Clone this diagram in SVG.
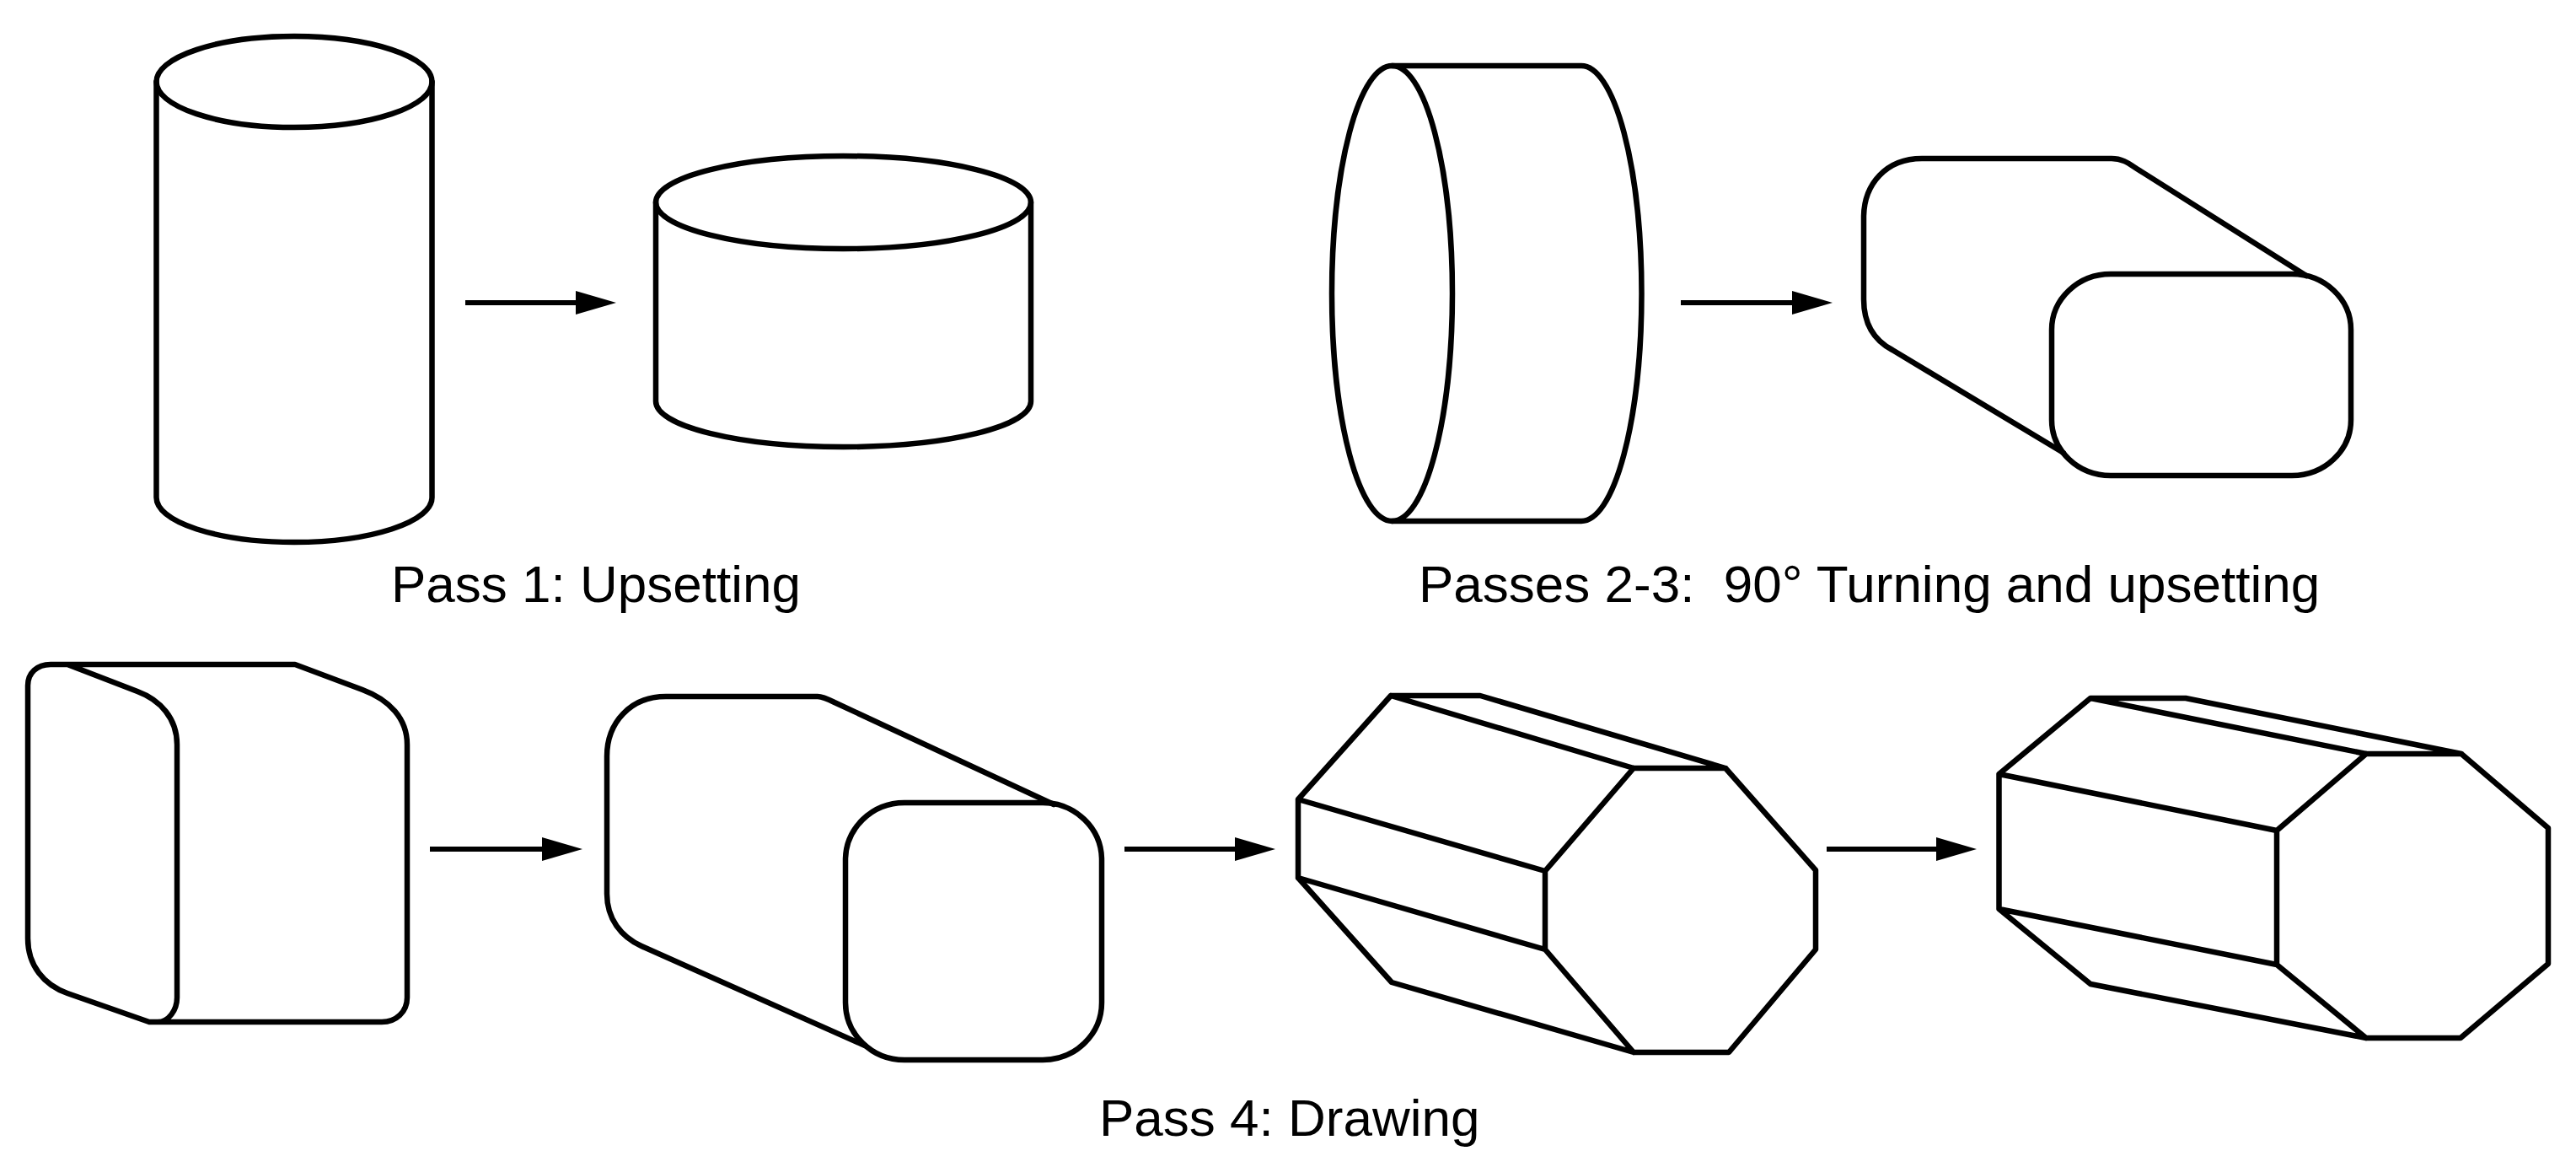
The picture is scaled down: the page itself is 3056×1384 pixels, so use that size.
<svg xmlns="http://www.w3.org/2000/svg" width="3056" height="1384" viewBox="0 0 3056 1384">
<style>
.s{fill:none;stroke:#000;stroke-width:6.500;stroke-linejoin:round;stroke-linecap:round}
.a{fill:none;stroke:#000;stroke-width:6;marker-end:url(#h)}
text{font-family:"Liberation Sans",Arial,sans-serif;font-size:62px;fill:#000;white-space:pre}
</style>
<defs><marker id="h" markerUnits="userSpaceOnUse" markerWidth="50" markerHeight="28" refX="10" refY="14" orient="auto"><path d="M0 0L48 14L0 28Z" fill="#000"/></marker></defs>
<rect width="3056" height="1384" fill="#fff"/>
<g id="cyl-tall"><ellipse class="s" cx="349" cy="97" rx="163.500" ry="54"/><path class="s" d="M185.500 97V590A163.500 53 0 0 0 512.500 590V97"/></g>
<g id="cyl-upset"><ellipse class="s" cx="1000.500" cy="240" rx="222.500" ry="55"/><path class="s" d="M778 240V476A222.500 54 0 0 0 1223 476V240"/></g>
<g id="disc"><ellipse class="s" cx="1651.500" cy="348" rx="71.500" ry="270"/><path class="s" d="M1651.500 78H1876A71.500 270 0 0 1 1876 618H1651.500"/></g>
<g id="slab-rounded"><path class="s" d="M2736 327L2538 202C2528 196 2520 188 2505 188H2280C2238 188 2211 218 2211 258V355C2211 385 2224 404 2245 415L2448 537"/><rect class="s" x="2434" y="325" width="355" height="239" rx="70" ry="66"/></g>
<g id="block-a"><path class="s" d="M80 788H350L430 818C462 830 483 852 483 883V1183C483 1200 470 1212 453 1212H177L80 1178C52 1168 33 1145 33 1113V813C33 798 44 788 60 788H80L163 820C190 830 210 852 210 883V1183C210 1198 200 1212 187 1212"/></g>
<g id="block-b"><path class="s" d="M1250 954L990 833C982 829 976 826 970 826H790C748 826 720 857 720 897V1060C720 1090 737 1111 761 1122L1026 1240"/><rect class="s" x="1003" y="952" width="304" height="305" rx="70" ry="68"/></g>
<g id="octagon-a"><path class="s" d="M1650 825H1756L2047 911L2154 1032V1126L2051 1248H1938L1651 1165L1540 1041V948ZM1650 825L1938 911H2047M1938 911L1833 1033V1126L1938 1248M1540 948L1833 1033M1540 1041L1833 1126"/></g>
<g id="octagon-b"><path class="s" d="M2480 828H2593L2920 894L3023 982V1143L2919 1231H2807L2480 1167L2371.500 1078V918ZM2480 828L2807 894H2920M2807 894L2701 985V1144L2807 1231M2371.500 918L2701 985M2371.500 1078L2701 1144"/></g>
<g id="connectors">
<line class="a" x1="552" y1="359" x2="693" y2="359"/>
<line class="a" x1="1994" y1="359" x2="2136" y2="359"/>
<line class="a" x1="510" y1="1007" x2="653" y2="1007"/>
<line class="a" x1="1334" y1="1007" x2="1475" y2="1007"/>
<line class="a" x1="2167" y1="1007" x2="2307" y2="1007"/>
</g>
<text x="464" y="714">Pass 1: Upsetting</text>
<text x="1683" y="714">Passes 2-3:  90° Turning and upsetting</text>
<text x="1304" y="1347">Pass 4: Drawing</text>
</svg>
